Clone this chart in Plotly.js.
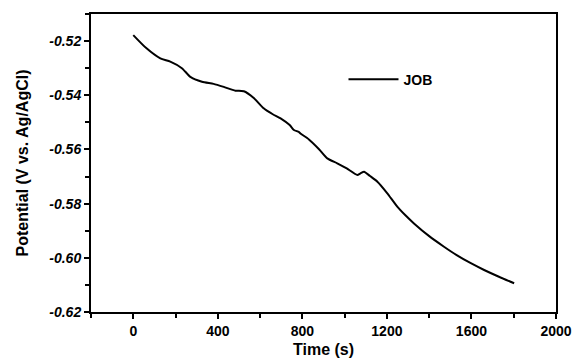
<!DOCTYPE html>
<html>
<head>
<meta charset="utf-8">
<script src="https://cdn.plot.ly/plotly-3.0.1.min.js"></script>
<style>html,body{margin:0;padding:0;background:#fff;}#chart{width:573px;height:361px;}</style>
</head>
<body>
<div id="chart"></div>
<script>
const seriesName = "JOB";
const timeS = [0, 60, 128, 175, 230, 270, 325, 380, 428, 483, 523, 570, 617, 660, 697, 740, 760, 783, 791, 831, 880, 918, 965, 1010, 1060, 1075, 1092, 1120, 1155, 1200, 1249, 1290, 1328, 1400, 1470, 1530, 1597, 1660, 1730, 1802];
const potentialV = [-0.5178, -0.5225, -0.5264, -0.5276, -0.5300, -0.5332, -0.5350, -0.5358, -0.5369, -0.5383, -0.5385, -0.5410, -0.5448, -0.5470, -0.5485, -0.5510, -0.5528, -0.5535, -0.5541, -0.5563, -0.5600, -0.5633, -0.5651, -0.5670, -0.5694, -0.5688, -0.5682, -0.5698, -0.5719, -0.5760, -0.5811, -0.5845, -0.5873, -0.5920, -0.5959, -0.5990, -0.6020, -0.6045, -0.6070, -0.6094];
const xTickVals = [0, 400, 800, 1200, 1600, 2000];
const yTickVals = [-0.62, -0.60, -0.58, -0.56, -0.54, -0.52];

const trace = {
  x: timeS, y: potentialV, type: 'scatter', mode: 'lines', name: seriesName,
  line: {color: '#000000', width: 2, shape: 'spline', smoothing: 0.6}
};
const tickFontX = {family: 'Liberation Sans, Arial, sans-serif', size: 14, color: '#000', weight: 'bold'};
const tickFontY = {family: 'Liberation Sans, Arial, sans-serif', size: 14, color: '#000', weight: 'bold', style: 'italic'};
const layout = {
  width: 573, height: 361,
  margin: {l: 91, r: 17, t: 14, b: 49},
  paper_bgcolor: '#fff', plot_bgcolor: '#fff',
  showlegend: true,
  legend: {x: 0.543, y: 0.78, xanchor: 'left', yanchor: 'middle', bgcolor: 'rgba(0,0,0,0)', itemwidth: 50,
           font: {family: 'Liberation Sans, Arial, sans-serif', size: 14, color: '#000', weight: 'bold'}},
  xaxis: {
    range: [-200, 2000], tickvals: xTickVals, ticktext: xTickVals.map(String),
    ticks: 'outside', ticklen: 5, tickwidth: 2, tickcolor: '#000',
    minor: {dtick: 200, tick0: 0, ticks: 'outside', ticklen: 4, tickwidth: 2, tickcolor: '#000'},
    showline: true, linewidth: 2, linecolor: '#000', mirror: true, showgrid: false, zeroline: false,
    tickfont: tickFontX,
    title: {text: 'Time (s)', font: {family: 'Liberation Sans, Arial, sans-serif', size: 16, color: '#000', weight: 'bold'}, standoff: 6}
  },
  yaxis: {
    range: [-0.62, -0.51], tickvals: yTickVals, ticktext: yTickVals.map(v => v.toFixed(2)),
    ticks: 'outside', ticklen: 5, tickwidth: 2, tickcolor: '#000',
    minor: {dtick: 0.01, tick0: -0.62, ticks: 'outside', ticklen: 4, tickwidth: 2, tickcolor: '#000'},
    showline: true, linewidth: 2, linecolor: '#000', mirror: true, showgrid: false, zeroline: false,
    tickfont: tickFontY,
    title: {text: 'Potential (V vs. Ag/AgCl)', font: {family: 'Liberation Sans, Arial, sans-serif', size: 16, color: '#000', weight: 'bold'}, standoff: 17}
  }
};
Plotly.newPlot('chart', [trace], layout, {displayModeBar: false, staticPlot: true});
</script>
</body>
</html>
